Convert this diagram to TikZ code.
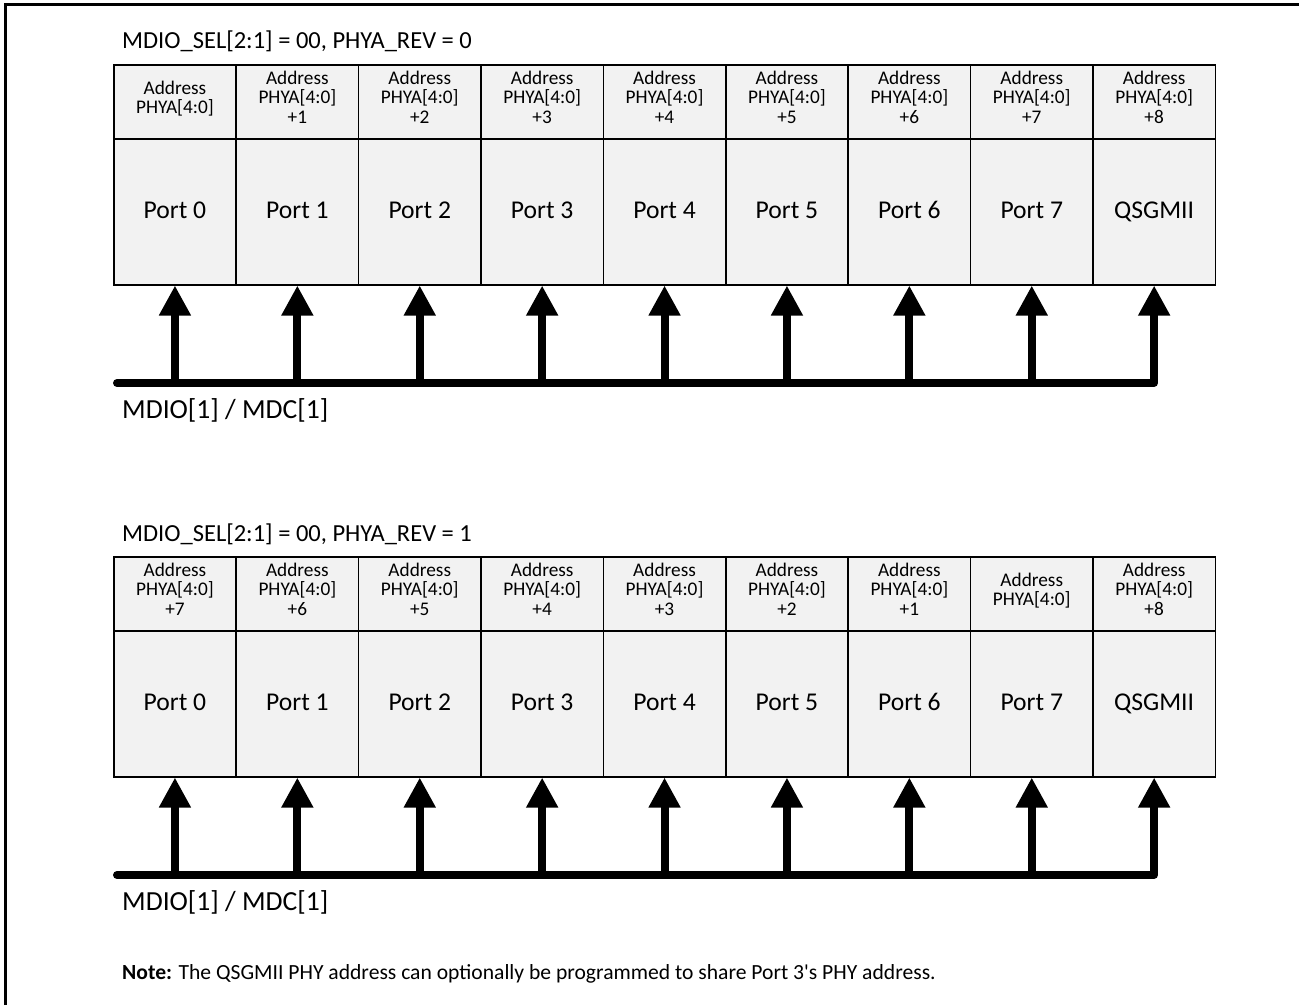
\documentclass[tikz,border=0pt]{standalone}
\usepackage{fontspec}
\setmainfont{Carlito}[Ligatures=TeXOff]
\usetikzlibrary{arrows.meta}
\definecolor{cellgray}{HTML}{F2F2F2}

% extra depth under the last header line, so the text sits a little high
\newcommand\hdrfoot{\rule[-9pt]{0pt}{1pt}}

% One row of nine PHY blocks with their shared MDIO bus.
% #1 = name prefix, #2 = top edge (y), #3 = address offsets (-1 = base address)
\newcommand\phytable[3]{%
  \foreach \off [count=\i] in {#3} {
    \pgfmathsetmacro\xl{113+122.4*(\i-1)}
    \ifnum\off<0 \def\addr{Address\\PHYA[4:0]\hdrfoot}\else\def\addr{Address\\PHYA[4:0]\\+\off\hdrfoot}\fi
    \ifnum\i=9 \def\plab{QSGMII}\else\pgfmathtruncatemacro\pn{\i-1}\def\plab{Port \pn}\fi
    \node[hdr] (#1h\i) at (\xl,#2) {\addr};
    \node[portbox] (#1p\i) at (\xl,#2+74) {\plab};
  }
  \coordinate (#1bus) at (117,#2+319);
  \draw[busline] (#1bus) -- (#1p9.south |- #1bus) -- (#1p9.south);
  \foreach \i in {1,...,8} \draw[feed] (#1p\i.south |- #1bus) -- (#1p\i.south);
}

\begin{document}
\begin{tikzpicture}[x=1pt,y=-1pt,
  cell/.style={draw, line width=1.5pt, fill=cellgray, minimum width=122.4pt,
    inner sep=0pt, align=center, anchor=north west},
  hdr/.style={cell, minimum height=74pt, font=\fontsize{19.3}{19.8}\selectfont},
  portbox/.style={cell, minimum height=146pt, text height=18pt, text depth=5pt,
    font=\fontsize{25.6}{30}\selectfont},
  feed/.style={line width=8pt, -{Triangle[width=30pt,length=30pt]}},
  busline/.style={feed, line cap=round, line join=round},
  caption/.style={anchor=base west, inner sep=0pt, font=\fontsize{24.5}{29}\selectfont},
  buslabel/.style={caption, font=\fontsize{27.6}{32}\selectfont},
]
\useasboundingbox (0,0) rectangle (1299,1005);

% page frame (top and left edges)
\draw[line width=3pt] (5,1005) -- (5,4) -- (1299,4);

% PHYA_REV = 0
\node[caption] (title1) at (122,48) {MDIO\_SEL[2:1] = 00, PHYA\_REV = 0};
\phytable{a}{64}{-1,1,2,3,4,5,6,7,8}
\node[buslabel] (bus1) at (122,418) {MDIO[1] / MDC[1]};

% PHYA_REV = 1
\node[caption] (title2) at (122,541) {MDIO\_SEL[2:1] = 00, PHYA\_REV = 1};
\phytable{b}{556}{7,6,5,4,3,2,1,-1,8}
\node[buslabel] (bus2) at (122,910) {MDIO[1] / MDC[1]};

\node[anchor=base west, inner sep=0pt, font=\fontsize{21.6}{25}\selectfont] (note) at (122,979)
  {\textbf{Note:} The QSGMII PHY address can optionally be programmed to share Port 3's PHY address.};
\end{tikzpicture}
\end{document}
